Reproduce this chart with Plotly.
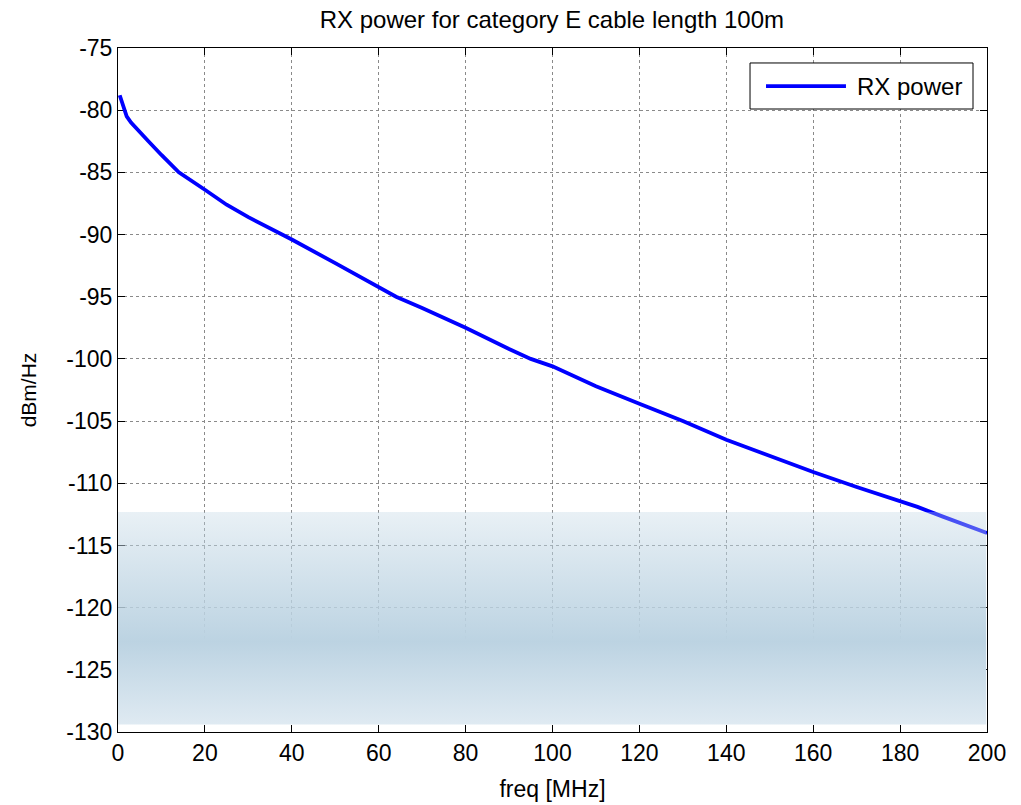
import plotly.graph_objects as go

# RX power curve
freq_mhz = [0.4, 1, 2, 3, 5, 7, 10, 14, 20, 25, 30, 38, 40, 50, 60, 64, 70, 77, 80,
            90, 95, 100, 110, 120, 126, 130, 140, 150, 160, 170, 180, 184, 190, 200]
rx_power = [-78.8, -79.5, -80.5, -81.0, -81.7, -82.5, -83.6, -85.0, -86.4, -87.6,
            -88.6, -90.0, -90.4, -92.3, -94.2, -95.0, -95.9, -97.0, -97.5,
            -99.2, -100.0, -100.6, -102.2, -103.6, -104.4, -105.0, -106.5, -107.8,
            -109.1, -110.3, -111.4, -111.9, -112.7, -114.0]
series_name = "RX power"

# shaded band overlay
band_x = [-0.6, 199.8]
band_y = [-129.4, -112.3]

x_ticks = [0, 20, 40, 60, 80, 100, 120, 140, 160, 180, 200]
y_ticks = [-130, -125, -120, -115, -110, -105, -100, -95, -90, -85, -80, -75]

FONT = "Liberation Sans, Arial, sans-serif"
BLUE = "#0000ff"

fig = go.Figure()
fig.add_trace(go.Scatter(
    x=freq_mhz, y=rx_power, mode="lines", name=series_name,
    line=dict(color=BLUE, width=3.8), showlegend=False))

fig.add_trace(go.Scatter(
    x=[band_x[0], band_x[1], band_x[1], band_x[0], band_x[0]],
    y=[band_y[0], band_y[0], band_y[1], band_y[1], band_y[0]],
    mode="lines", fill="toself", line=dict(width=0), showlegend=False,
    hoverinfo="skip",
    fillgradient=dict(type="vertical", start=band_y[0], stop=band_y[1],
                      colorscale=[[0.0, "rgba(223,234,242,1)"],
                                  [0.39, "rgba(188,211,226,1)"],
                                  [1.0, "rgba(188,211,226,0.33)"]])))

axis_common = dict(
    showline=True, linecolor="black", linewidth=1, mirror="allticks",
    ticks="inside", ticklen=7, tickcolor="black",
    showgrid=True, gridcolor="#8a8a8a", griddash="dot", gridwidth=1,
    zeroline=False, tickfont=dict(family=FONT, size=23, color="black"),
    layer="below traces", automargin=False)

fig.update_xaxes(range=[0, 200], tickvals=x_ticks, ticktext=[str(v) for v in x_ticks],
                 title=dict(text="freq [MHz]", standoff=16,
                            font=dict(family=FONT, size=23, color="black")),
                 **axis_common)
fig.update_yaxes(range=[-130, -75], tickvals=y_ticks, ticktext=[str(v) for v in y_ticks],
                 title=dict(text="dBm/Hz", standoff=24,
                            font=dict(family=FONT, size=21, color="black")),
                 **axis_common)

# legend box drawn as decoration (matching the MATLAB-style long legend line)
fig.add_shape(type="rect", xref="paper", yref="paper", x0=0.7273, x1=0.9839,
              y0=0.9108, y1=0.9781, line=dict(color="black", width=1),
              fillcolor="white", layer="above")
fig.add_shape(type="line", xref="paper", yref="paper", x0=0.7457, x1=0.8377,
              y0=0.9444, y1=0.9444, line=dict(color=BLUE, width=3.8), layer="above")
fig.add_annotation(xref="paper", yref="paper", x=0.8481, y=0.9444, xanchor="left",
                   yanchor="middle", text=series_name, showarrow=False,
                   font=dict(family=FONT, size=24, color="black"))

fig.update_layout(
    width=1021, height=805,
    margin=dict(l=118, r=34, t=48, b=73),
    paper_bgcolor="white", plot_bgcolor="white",
    title=dict(text="RX power for category E cable length 100m", x=0.5405, xanchor="center",
               y=0.976, yanchor="middle",
               font=dict(family=FONT, size=24, color="black")),
    showlegend=False,
)

fig.write_html("out.html")
